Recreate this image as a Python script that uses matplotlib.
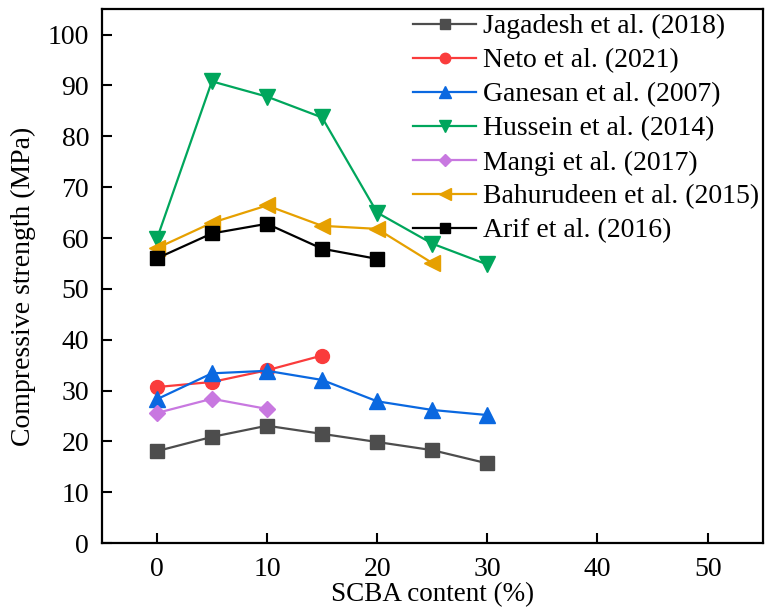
import matplotlib.pyplot as plt

plt.rcParams['font.family'] = ['Liberation Serif', 'DejaVu Serif']

# SCBA content (%)
x_jagadesh = [0, 5, 10, 15, 20, 25, 30]
y_jagadesh = [18.1, 20.9, 23.1, 21.5, 19.9, 18.3, 15.7]

x_neto = [0, 5, 10, 15]
y_neto = [30.7, 31.7, 34.0, 36.9]

x_ganesan = [0, 5, 10, 15, 20, 25, 30]
y_ganesan = [28.3, 33.4, 33.9, 32.1, 27.9, 26.2, 25.2]

x_hussein = [0, 5, 10, 15, 20, 25, 30]
y_hussein = [59.8, 90.8, 87.8, 83.7, 65.0, 58.9, 54.8]

x_mangi = [0, 5, 10]
y_mangi = [25.6, 28.4, 26.4]

x_bahurudeen = [0, 5, 10, 15, 20, 25]
y_bahurudeen = [58.0, 63.0, 66.4, 62.4, 61.8, 55.1]

x_arif = [0, 5, 10, 15, 20]
y_arif = [56.0, 60.9, 62.8, 57.9, 55.9]

fig = plt.figure(figsize=(7.65, 6.09), dpi=100)
ax = fig.add_axes([0.133, 0.108, 0.864, 0.877])

ms = 10
lw = 1.6
ax.plot(x_jagadesh, y_jagadesh, marker="s", color="#4d4d4d", lw=lw, ms=ms, label="Jagadesh et al. (2018)")
ax.plot(x_neto, y_neto, marker="o", color="#fa3c3c", lw=lw, ms=ms, label="Neto et al. (2021)")
ax.plot(x_ganesan, y_ganesan, marker="^", color="#0a68e0", lw=lw, ms=ms + 1, label="Ganesan et al. (2007)")
ax.plot(x_hussein, y_hussein, marker="v", color="#00a65c", lw=lw, ms=ms + 1, label="Hussein et al. (2014)")
ax.plot(x_mangi, y_mangi, marker="D", color="#c878e0", lw=lw, ms=ms - 1.5, label="Mangi et al. (2017)")
ax.plot(x_bahurudeen, y_bahurudeen, marker="<", color="#e6a000", lw=lw, ms=ms + 1, label="Bahurudeen et al. (2015)")
ax.plot(x_arif, y_arif, marker="s", color="black", lw=lw, ms=ms, label="Arif et al. (2016)")

ax.set_xlim(-5, 55)
ax.set_ylim(0, 105)
ax.set_xticks([0, 10, 20, 30, 40, 50])
ax.set_yticks(range(0, 101, 10))
ax.tick_params(direction="in", length=7.5, width=1.5, labelsize=20)
ax.tick_params(axis="x", pad=10)
ax.tick_params(axis="y", pad=9)
for side in ax.spines.values():
    side.set_linewidth(1.6)

ax.set_xlabel("SCBA content (%)", fontsize=19.5, labelpad=0)
ax.set_ylabel("Compressive strength (MPa)", fontsize=20, labelpad=4)
ax.yaxis.set_label_coords(-0.1, 0.48)

ax.legend(loc="upper right", frameon=False, fontsize=20, handlelength=2.3,
          labelspacing=0.31, handletextpad=0.25, borderaxespad=0.0,
          markerscale=0.75, bbox_to_anchor=(1.012, 1.012))

plt.savefig("out.png", dpi=100)
